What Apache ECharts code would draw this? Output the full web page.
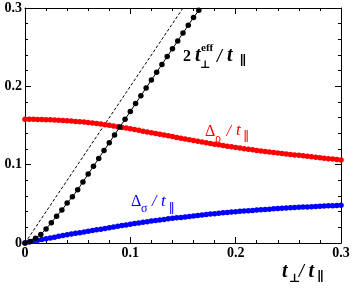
<!DOCTYPE html>
<html><head><meta charset="utf-8">
<script src="https://cdn.jsdelivr.net/npm/echarts@6/dist/echarts.min.js"></script>
<style>html,body{margin:0;padding:0;background:#fff}#c{width:354px;height:289px}</style>
</head><body><div id="c"></div>
<script>
// x grid for the Δ curves
const xFine = [0,0.004,0.008,0.012,0.016,0.02,0.024,0.028,0.032,0.036,
0.04,0.044,0.048,0.052,0.056,0.06,0.064,0.068,0.072,0.076,
0.08,0.084,0.088,0.092,0.096,0.1,0.104,0.108,0.112,0.116,
0.12,0.124,0.128,0.132,0.136,0.14,0.144,0.148,0.152,0.156,
0.16,0.164,0.168,0.172,0.176,0.18,0.184,0.188,0.192,0.196,
0.2,0.204,0.208,0.212,0.216,0.22,0.224,0.228,0.232,0.236,
0.24,0.244,0.248,0.252,0.256,0.26,0.264,0.268,0.272,0.276,
0.28,0.284,0.288,0.292,0.296,0.3];
const deltaRho = [0.1580,0.1580,0.1579,0.1578,0.1577,0.1575,0.1573,0.1570,0.1567,0.1564,
0.1560,0.1556,0.1552,0.1548,0.1544,0.1539,0.1533,0.1526,0.1519,0.1511,
0.1503,0.1494,0.1485,0.1476,0.1467,0.1458,0.1448,0.1438,0.1428,0.1418,
0.1408,0.1398,0.1388,0.1378,0.1368,0.1358,0.1348,0.1338,0.1328,0.1318,
0.1308,0.1298,0.1289,0.1280,0.1271,0.1262,0.1253,0.1244,0.1236,0.1228,
0.1220,0.1212,0.1204,0.1196,0.1189,0.1182,0.1175,0.1168,0.1161,0.1155,
0.1149,0.1143,0.1137,0.1131,0.1125,0.1119,0.1113,0.1107,0.1101,0.1095,
0.1089,0.1083,0.1077,0.1071,0.1065,0.1060];
const deltaSigma = [0,0.0012,0.0023,0.0034,0.0045,0.0055,0.0065,0.0075,0.0085,0.0095,
0.0105,0.0114,0.0123,0.0132,0.0141,0.0150,0.0159,0.0168,0.0177,0.0186,
0.0195,0.0204,0.0213,0.0222,0.0231,0.0240,0.0248,0.0256,0.0264,0.0272,
0.0280,0.0287,0.0294,0.0301,0.0308,0.0315,0.0321,0.0327,0.0333,0.0339,
0.0345,0.0351,0.0357,0.0363,0.0369,0.0375,0.0380,0.0385,0.0390,0.0395,
0.0400,0.0404,0.0408,0.0412,0.0416,0.0420,0.0424,0.0428,0.0432,0.0436,
0.0440,0.0443,0.0446,0.0449,0.0452,0.0455,0.0458,0.0461,0.0464,0.0467,
0.0470,0.0472,0.0475,0.0477,0.0480,0.0482];
// 2 t_perp^eff / t_par
const xEff = [0,0.005,0.01,0.015,0.02,0.025,0.03,0.035,0.04,0.045,0.05,0.055,0.06,0.065,0.07,0.075,0.08,0.085,0.09,0.095,0.1,0.105,0.11,0.115,0.12,0.125,0.13,0.135,0.14,0.145,0.15,0.155,0.16,0.165];
const tEff = [0,0.002,0.006,0.011,0.018,0.026,0.034,0.042,0.051,0.059,0.068,0.078,0.088,0.098,0.108,0.118,0.128,0.138,0.148,0.158,0.168,0.178,0.188,0.198,0.208,0.218,0.228,0.238,0.248,0.258,0.268,0.278,0.288,0.297];
// dashed reference line 2 t_perp / t_par
const xRef = [0, 0.15];
const yRef = [0, 0.3];
const axisTicks = [0, 0.1, 0.2, 0.3];

const SERIF = "'Liberation Serif','DejaVu Serif',serif";
const fmt = v => { const r = axisTicks.find(t => Math.abs(t - v) < 1e-9); return r === 0 ? '0' : (r !== undefined ? r.toFixed(1) : ''); };

function axisCommon(pos, showLabel) {
  return {
    type: 'value', min: 0, max: 0.3, interval: 0.1, position: pos,
    axisLine: { show: true, onZero: false, lineStyle: { color: '#000', width: 1 } },
    axisTick: { show: true, inside: true, length: 6, lineStyle: { color: '#000', width: 1 } },
    minorTick: { show: true, splitNumber: 5, length: 3, lineStyle: { color: '#000', width: 1 } },
    splitLine: { show: false }, minorSplitLine: { show: false },
    axisLabel: { show: showLabel, formatter: fmt, fontFamily: SERIF, fontWeight: 'bold', fontSize: 14, color: '#000', margin: 3 }
  };
}

function pieces(list, color) {
  return list.map(p => ({
    type: 'text', x: p[1], y: p[2], z: 100,
    style: { text: p[0], fill: color, font: (p[4] || 'normal') + ' ' + (p[5] || 'normal') + ' ' + p[3] + 'px ' + SERIF, verticalAlign: 'middle', align: 'left' }
  }));
}

const graphics = [].concat(
  pieces([
    ['2', 183, 57, 16, '', 'bold'],
    ['t', 195, 56, 20, 'italic', 'bold'],
    ['⊥', 200, 65, 11, '', 'bold'],
    ['eff', 201, 48, 11, '', 'bold'],
    ['/', 217, 57, 18, 'italic', 'bold'],
    ['t', 227, 56, 20, 'italic', 'bold'],
    ['∥', 239.5, 62, 13, '', 'bold']
  ], '#000'),
  pieces([
    ['Δ', 205, 131.5, 16],
    ['ρ', 215, 138.5, 12],
    ['/', 226.5, 131.5, 16, 'italic'],
    ['t', 236, 131, 17, 'italic'],
    ['∥', 243.5, 138, 13]
  ], '#ff0000'),
  pieces([
    ['Δ', 131, 202, 16],
    ['σ', 141, 209, 12],
    ['/', 152, 202, 16, 'italic'],
    ['t', 161, 201.5, 17, 'italic'],
    ['∥', 169, 210, 13]
  ], '#0000ff'),
  pieces([
    ['t', 282, 271.5, 20, 'italic', 'bold'],
    ['⊥', 289, 279, 12, '', 'bold'],
    ['/', 299, 272, 18, 'italic', 'bold'],
    ['t', 308.5, 271.5, 20, 'italic', 'bold'],
    ['∥', 317, 278, 13, '', 'bold']
  ], '#000')
);

const chart = echarts.init(document.getElementById('c'), null, { renderer: 'canvas' });
chart.setOption({
  animation: false,
  backgroundColor: '#fff',
  grid: { left: 25, right: 13, top: 8, bottom: 46 },
  xAxis: [axisCommon('bottom', true), axisCommon('top', false)],
  yAxis: [axisCommon('left', true), axisCommon('right', false)],
  series: [
    { type: 'line', data: xRef.map((x, i) => [x, yRef[i]]), showSymbol: false, symbol: 'none',
      lineStyle: { color: '#000', width: 1, type: [3, 2] }, clip: true, z: 1 },
    { type: 'line', data: xFine.map((x, i) => [x, deltaRho[i]]), symbol: 'circle', symbolSize: 5.5, showSymbol: true,
      itemStyle: { color: '#ff0000' }, lineStyle: { color: '#ff0000', width: 1 }, clip: true, z: 2 },
    { type: 'line', data: xFine.map((x, i) => [x, deltaSigma[i]]), symbol: 'circle', symbolSize: 5.5, showSymbol: true,
      itemStyle: { color: '#0000ff' }, lineStyle: { color: '#0000ff', width: 1 }, clip: true, z: 3 },
    { type: 'line', data: xEff.map((x, i) => [x, tEff[i]]), symbol: 'circle', symbolSize: 5.5, showSymbol: true,
      itemStyle: { color: '#000' }, lineStyle: { color: '#000', width: 1 }, clip: true, z: 4 }
  ],
  graphic: graphics
});
</script></body></html>
